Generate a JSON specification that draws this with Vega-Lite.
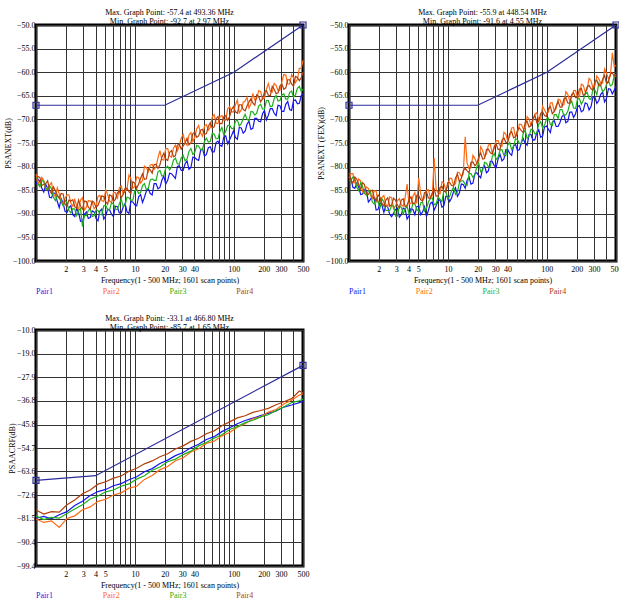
{
"$schema": "https://vega.github.io/schema/vega-lite/v6.json",
"padding": {"left": 2, "top": 7, "right": 0, "bottom": 0},
"datasets": {
"next": [
{"f":1,"Pair1":-83.8,"Pair2":-81.6,"Pair3":-82.3,"Pair4":-83.1},
{"f":1.094,"Pair1":-83.1,"Pair2":-84.2,"Pair3":-84.2,"Pair4":-82.3},
{"f":1.198,"Pair1":-85.4,"Pair2":-83.0,"Pair3":-83.1,"Pair4":-83.8},
{"f":1.311,"Pair1":-84.6,"Pair2":-84.6,"Pair3":-84.9,"Pair4":-83.0},
{"f":1.434,"Pair1":-86.6,"Pair2":-83.4,"Pair3":-84.7,"Pair4":-85.7},
{"f":1.57,"Pair1":-85.7,"Pair2":-86.4,"Pair3":-87.2,"Pair4":-85.1},
{"f":1.718,"Pair1":-88.7,"Pair2":-85.8,"Pair3":-86.6,"Pair4":-86.7},
{"f":1.88,"Pair1":-87.7,"Pair2":-88.0,"Pair3":-88.3,"Pair4":-85.8},
{"f":2.057,"Pair1":-89.7,"Pair2":-86.0,"Pair3":-87.6,"Pair4":-88.4},
{"f":2.251,"Pair1":-88.3,"Pair2":-87.7,"Pair3":-89.8,"Pair4":-87.3},
{"f":2.464,"Pair1":-90.6,"Pair2":-87.0,"Pair3":-89.0,"Pair4":-88.5},
{"f":2.696,"Pair1":-89.7,"Pair2":-89.0,"Pair3":-89.3,"Pair4":-87.1},
{"f":2.95,"Pair1":-91.7,"Pair2":-86.6,"Pair3":-92.7,"Pair4":-89.0},
{"f":3.229,"Pair1":-89.6,"Pair2":-88.6,"Pair3":-90.4,"Pair4":-87.4},
{"f":3.533,"Pair1":-90.8,"Pair2":-87.3,"Pair3":-88.9,"Pair4":-89.0},
{"f":3.866,"Pair1":-89.6,"Pair2":-88.9,"Pair3":-90.4,"Pair4":-87.6},
{"f":4.231,"Pair1":-91.5,"Pair2":-86.3,"Pair3":-89.3,"Pair4":-88.2},
{"f":4.63,"Pair1":-89.0,"Pair2":-87.2,"Pair3":-90.2,"Pair4":-86.2},
{"f":5.067,"Pair1":-90.4,"Pair2":-84.9,"Pair3":-88.2,"Pair4":-87.4},
{"f":5.545,"Pair1":-89.2,"Pair2":-87.3,"Pair3":-89.1,"Pair4":-86.0},
{"f":6.068,"Pair1":-90.6,"Pair2":-85.5,"Pair3":-87.9,"Pair4":-87.4},
{"f":6.64,"Pair1":-88.5,"Pair2":-86.9,"Pair3":-89.1,"Pair4":-85.6},
{"f":7.266,"Pair1":-89.8,"Pair2":-84.1,"Pair3":-86.9,"Pair4":-86.6},
{"f":7.951,"Pair1":-87.8,"Pair2":-85.2,"Pair3":-88.1,"Pair4":-84.6},
{"f":8.701,"Pair1":-89.9,"Pair2":-81.8,"Pair3":-86.6,"Pair4":-85.3},
{"f":9.522,"Pair1":-87.5,"Pair2":-84.6,"Pair3":-87.1,"Pair4":-83.2},
{"f":10.42,"Pair1":-88.3,"Pair2":-82.2,"Pair3":-84.8,"Pair4":-84.6},
{"f":11.4,"Pair1":-85.9,"Pair2":-83.5,"Pair3":-85.5,"Pair4":-82.5},
{"f":12.48,"Pair1":-86.5,"Pair2":-79.9,"Pair3":-83.6,"Pair4":-82.7},
{"f":13.66,"Pair1":-84.7,"Pair2":-81.1,"Pair3":-84.6,"Pair4":-80.4},
{"f":14.94,"Pair1":-86.0,"Pair2":-79.5,"Pair3":-82.6,"Pair4":-81.4},
{"f":16.35,"Pair1":-83.6,"Pair2":-80.1,"Pair3":-82.9,"Pair4":-79.5},
{"f":17.9,"Pair1":-84.4,"Pair2":-76.6,"Pair3":-80.8,"Pair4":-79.6},
{"f":19.58,"Pair1":-82.0,"Pair2":-78.6,"Pair3":-81.9,"Pair4":-77.2},
{"f":21.43,"Pair1":-82.9,"Pair2":-76.2,"Pair3":-79.9,"Pair4":-78.7},
{"f":23.45,"Pair1":-81.5,"Pair2":-78.0,"Pair3":-80.1,"Pair4":-76.6},
{"f":25.66,"Pair1":-82.5,"Pair2":-75.4,"Pair3":-78.2,"Pair4":-77.7},
{"f":28.08,"Pair1":-79.8,"Pair2":-75.6,"Pair3":-79.5,"Pair4":-75.2},
{"f":30.73,"Pair1":-80.8,"Pair2":-73.2,"Pair3":-77.6,"Pair4":-75.6},
{"f":33.63,"Pair1":-78.8,"Pair2":-75.5,"Pair3":-78.4,"Pair4":-74.0},
{"f":36.8,"Pair1":-80.2,"Pair2":-72.8,"Pair3":-76.2,"Pair4":-75.0},
{"f":40.27,"Pair1":-78.1,"Pair2":-73.8,"Pair3":-77.0,"Pair4":-72.7},
{"f":44.07,"Pair1":-78.7,"Pair2":-71.3,"Pair3":-75.7,"Pair4":-73.5},
{"f":48.22,"Pair1":-76.2,"Pair2":-73.6,"Pair3":-76.4,"Pair4":-72.1},
{"f":52.77,"Pair1":-77.4,"Pair2":-71.1,"Pair3":-74.0,"Pair4":-73.0},
{"f":57.75,"Pair1":-75.8,"Pair2":-71.7,"Pair3":-74.7,"Pair4":-70.7},
{"f":63.19,"Pair1":-76.9,"Pair2":-69.0,"Pair3":-73.1,"Pair4":-71.6},
{"f":69.15,"Pair1":-74.6,"Pair2":-70.9,"Pair3":-74.1,"Pair4":-69.4},
{"f":75.67,"Pair1":-75.7,"Pair2":-69.2,"Pair3":-71.7,"Pair4":-70.9},
{"f":82.81,"Pair1":-73.5,"Pair2":-70.2,"Pair3":-72.5,"Pair4":-69.2},
{"f":90.62,"Pair1":-74.3,"Pair2":-67.3,"Pair3":-71.2,"Pair4":-69.4},
{"f":99.17,"Pair1":-72.4,"Pair2":-68.4,"Pair3":-72.0,"Pair4":-67.3},
{"f":108.5,"Pair1":-74.2,"Pair2":-65.9,"Pair3":-70.1,"Pair4":-68.7},
{"f":118.8,"Pair1":-71.8,"Pair2":-68.0,"Pair3":-70.9,"Pair4":-66.9},
{"f":130,"Pair1":-72.5,"Pair2":-66.1,"Pair3":-68.9,"Pair4":-68.2},
{"f":142.2,"Pair1":-70.4,"Pair2":-67.6,"Pair3":-70.3,"Pair4":-66.3},
{"f":155.6,"Pair1":-71.9,"Pair2":-64.5,"Pair3":-68.4,"Pair4":-66.5},
{"f":170.3,"Pair1":-69.8,"Pair2":-65.6,"Pair3":-68.7,"Pair4":-64.8},
{"f":186.4,"Pair1":-70.5,"Pair2":-64.1,"Pair3":-66.8,"Pair4":-66.3},
{"f":204,"Pair1":-68.1,"Pair2":-65.5,"Pair3":-67.8,"Pair4":-64.2},
{"f":223.2,"Pair1":-69.1,"Pair2":-62.4,"Pair3":-66.0,"Pair4":-64.9},
{"f":244.3,"Pair1":-67.7,"Pair2":-64.2,"Pair3":-67.2,"Pair4":-63.0},
{"f":267.3,"Pair1":-69.2,"Pair2":-62.8,"Pair3":-64.9,"Pair4":-64.5},
{"f":292.5,"Pair1":-67.1,"Pair2":-63.8,"Pair3":-66.0,"Pair4":-62.9},
{"f":320.1,"Pair1":-68.3,"Pair2":-60.5,"Pair3":-64.6,"Pair4":-63.6},
{"f":350.3,"Pair1":-66.2,"Pair2":-62.5,"Pair3":-65.7,"Pair4":-61.6},
{"f":383.4,"Pair1":-68.1,"Pair2":-60.5,"Pair3":-64.0,"Pair4":-62.5},
{"f":419.5,"Pair1":-65.9,"Pair2":-62.2,"Pair3":-64.8,"Pair4":-60.9},
{"f":459.1,"Pair1":-66.6,"Pair2":-59.2,"Pair3":-63.0,"Pair4":-61.8},
{"f":500,"Pair1":-64.7,"Pair2":-57.5,"Pair3":-63.6,"Pair4":-60.0},
{"f":1.046,"Pair1":-82.7,"Pair2":-83.1,"Pair3":-83.7,"Pair4":-82.1},
{"f":1.145,"Pair1":-84.6,"Pair2":-82.3,"Pair3":-83.0,"Pair4":-84.0},
{"f":1.253,"Pair1":-83.8,"Pair2":-84.9,"Pair3":-84.6,"Pair4":-83.6},
{"f":1.371,"Pair1":-86.5,"Pair2":-83.9,"Pair3":-84.1,"Pair4":-85.0},
{"f":1.5,"Pair1":-85.6,"Pair2":-85.7,"Pair3":-86.5,"Pair4":-84.3},
{"f":1.642,"Pair1":-87.4,"Pair2":-84.5,"Pair3":-86.1,"Pair4":-86.1},
{"f":1.797,"Pair1":-86.8,"Pair2":-87.2,"Pair3":-87.5,"Pair4":-85.7},
{"f":1.966,"Pair1":-89.5,"Pair2":-86.7,"Pair3":-87.1,"Pair4":-88.0},
{"f":2.152,"Pair1":-88.7,"Pair2":-86.0,"Pair3":-89.3,"Pair4":-87.1},
{"f":2.355,"Pair1":-90.2,"Pair2":-88.4,"Pair3":-88.9,"Pair4":-87.0},
{"f":2.577,"Pair1":-88.8,"Pair2":-88.3,"Pair3":-90.4,"Pair4":-88.8},
{"f":2.82,"Pair1":-91.6,"Pair2":-87.1,"Pair3":-88.9,"Pair4":-88.4},
{"f":3.086,"Pair1":-90.1,"Pair2":-89.2,"Pair3":-90.4,"Pair4":-87.3},
{"f":3.377,"Pair1":-91.0,"Pair2":-87.2,"Pair3":-89.3,"Pair4":-88.6},
{"f":3.696,"Pair1":-89.4,"Pair2":-87.6,"Pair3":-90.6,"Pair4":-87.3},
{"f":4.044,"Pair1":-91.0,"Pair2":-88.5,"Pair3":-89.2,"Pair4":-88.6},
{"f":4.426,"Pair1":-89.4,"Pair2":-86.1,"Pair3":-90.1,"Pair4":-87.2},
{"f":4.843,"Pair1":-91.1,"Pair2":-87.4,"Pair3":-88.3,"Pair4":-86.4},
{"f":5.3,"Pair1":-89.0,"Pair2":-85.9,"Pair3":-89.2,"Pair4":-88.0},
{"f":5.8,"Pair1":-90.1,"Pair2":-87.6,"Pair3":-87.7,"Pair4":-86.2},
{"f":6.347,"Pair1":-88.4,"Pair2":-85.5,"Pair3":-89.0,"Pair4":-86.9},
{"f":6.946,"Pair1":-89.8,"Pair2":-84.5,"Pair3":-87.9,"Pair4":-85.1},
{"f":7.601,"Pair1":-88.6,"Pair2":-85.8,"Pair3":-88.5,"Pair4":-85.9},
{"f":8.318,"Pair1":-89.6,"Pair2":-84.7,"Pair3":-86.5,"Pair4":-84.6},
{"f":9.102,"Pair1":-87.4,"Pair2":-82.5,"Pair3":-87.1,"Pair4":-85.7},
{"f":9.961,"Pair1":-88.1,"Pair2":-84.2,"Pair3":-85.1,"Pair4":-83.5},
{"f":10.9,"Pair1":-86.4,"Pair2":-82.3,"Pair3":-85.7,"Pair4":-83.7},
{"f":11.93,"Pair1":-87.6,"Pair2":-82.9,"Pair3":-84.0,"Pair4":-81.5},
{"f":13.05,"Pair1":-85.2,"Pair2":-80.2,"Pair3":-84.9,"Pair4":-82.6},
{"f":14.28,"Pair1":-85.7,"Pair2":-79.7,"Pair3":-82.8,"Pair4":-80.7},
{"f":15.63,"Pair1":-83.6,"Pair2":-80.6,"Pair3":-82.9,"Pair4":-79.6},
{"f":17.1,"Pair1":-84.7,"Pair2":-78.1,"Pair3":-81.1,"Pair4":-80.4},
{"f":18.72,"Pair1":-82.9,"Pair2":-78.5,"Pair3":-82.0,"Pair4":-78.0},
{"f":20.48,"Pair1":-83.7,"Pair2":-76.2,"Pair3":-80.3,"Pair4":-78.4},
{"f":22.42,"Pair1":-81.4,"Pair2":-77.7,"Pair3":-80.7,"Pair4":-77.0},
{"f":24.53,"Pair1":-82.0,"Pair2":-76.1,"Pair3":-78.6,"Pair4":-77.9},
{"f":26.84,"Pair1":-80.0,"Pair2":-76.7,"Pair3":-79.4,"Pair4":-75.5},
{"f":29.37,"Pair1":-80.8,"Pair2":-74.0,"Pair3":-78.2,"Pair4":-76.3},
{"f":32.15,"Pair1":-79.4,"Pair2":-74.9,"Pair3":-78.8,"Pair4":-75.0},
{"f":35.18,"Pair1":-80.6,"Pair2":-73.3,"Pair3":-76.8,"Pair4":-75.4},
{"f":38.5,"Pair1":-78.0,"Pair2":-74.7,"Pair3":-77.4,"Pair4":-73.0},
{"f":42.13,"Pair1":-78.5,"Pair2":-72.0,"Pair3":-75.5,"Pair4":-73.8},
{"f":46.1,"Pair1":-76.6,"Pair2":-72.9,"Pair3":-76.4,"Pair4":-72.3},
{"f":50.44,"Pair1":-77.8,"Pair2":-71.4,"Pair3":-74.7,"Pair4":-73.2},
{"f":55.2,"Pair1":-76.0,"Pair2":-72.3,"Pair3":-74.8,"Pair4":-71.5},
{"f":60.41,"Pair1":-76.9,"Pair2":-69.5,"Pair3":-73.0,"Pair4":-71.8},
{"f":66.1,"Pair1":-74.9,"Pair2":-70.8,"Pair3":-74.1,"Pair4":-69.9},
{"f":72.34,"Pair1":-75.5,"Pair2":-69.4,"Pair3":-72.5,"Pair4":-70.9},
{"f":79.16,"Pair1":-73.7,"Pair2":-70.1,"Pair3":-73.3,"Pair4":-69.4},
{"f":86.63,"Pair1":-75.2,"Pair2":-67.7,"Pair3":-71.3,"Pair4":-70.2},
{"f":94.8,"Pair1":-73.4,"Pair2":-68.4,"Pair3":-71.9,"Pair4":-67.9},
{"f":103.7,"Pair1":-73.8,"Pair2":-66.9,"Pair3":-70.4,"Pair4":-68.4},
{"f":113.5,"Pair1":-71.7,"Pair2":-68.6,"Pair3":-71.4,"Pair4":-66.9},
{"f":124.3,"Pair1":-72.9,"Pair2":-66.4,"Pair3":-69.8,"Pair4":-67.9},
{"f":136,"Pair1":-71.0,"Pair2":-65.3,"Pair3":-70.0,"Pair4":-67.1},
{"f":148.8,"Pair1":-72.1,"Pair2":-66.7,"Pair3":-68.3,"Pair4":-65.6},
{"f":162.8,"Pair1":-69.8,"Pair2":-65.9,"Pair3":-69.1,"Pair4":-67.0},
{"f":178.2,"Pair1":-70.4,"Pair2":-63.9,"Pair3":-67.2,"Pair4":-65.1},
{"f":195,"Pair1":-68.8,"Pair2":-65.7,"Pair3":-67.8,"Pair4":-65.6},
{"f":213.4,"Pair1":-70.1,"Pair2":-63.6,"Pair3":-66.0,"Pair4":-63.9},
{"f":233.5,"Pair1":-67.7,"Pair2":-64.0,"Pair3":-67.3,"Pair4":-65.0},
{"f":255.5,"Pair1":-68.7,"Pair2":-62.4,"Pair3":-65.6,"Pair4":-63.6},
{"f":279.6,"Pair1":-67.0,"Pair2":-63.9,"Pair3":-66.1,"Pair4":-64.4},
{"f":306,"Pair1":-68.3,"Pair2":-62.0,"Pair3":-64.8,"Pair4":-62.5},
{"f":334.9,"Pair1":-66.8,"Pair2":-60.6,"Pair3":-65.7,"Pair4":-63.3},
{"f":366.5,"Pair1":-67.9,"Pair2":-62.5,"Pair3":-64.3,"Pair4":-61.6},
{"f":401.1,"Pair1":-66.0,"Pair2":-61.2,"Pair3":-65.3,"Pair4":-63.0},
{"f":438.9,"Pair1":-66.7,"Pair2":-61.5,"Pair3":-63.4,"Pair4":-61.1},
{"f":480.3,"Pair1":-64.9,"Pair2":-59.2,"Pair3":-64.1,"Pair4":-61.2}
],
"fext": [
{"f":1,"Pair1":-82.1,"Pair2":-82.4,"Pair3":-82.9,"Pair4":-81.3},
{"f":1.094,"Pair1":-84.4,"Pair2":-81.5,"Pair3":-82.2,"Pair4":-83.5},
{"f":1.198,"Pair1":-83.5,"Pair2":-84.2,"Pair3":-84.4,"Pair4":-82.7},
{"f":1.311,"Pair1":-85.9,"Pair2":-83.0,"Pair3":-83.4,"Pair4":-84.8},
{"f":1.434,"Pair1":-84.9,"Pair2":-85.7,"Pair3":-85.6,"Pair4":-83.8},
{"f":1.57,"Pair1":-87.5,"Pair2":-84.6,"Pair3":-85.1,"Pair4":-85.9},
{"f":1.718,"Pair1":-86.3,"Pair2":-86.7,"Pair3":-87.5,"Pair4":-85.0},
{"f":1.88,"Pair1":-89.2,"Pair2":-85.2,"Pair3":-86.7,"Pair4":-87.4},
{"f":2.057,"Pair1":-87.5,"Pair2":-87.6,"Pair3":-88.9,"Pair4":-86.5},
{"f":2.251,"Pair1":-89.7,"Pair2":-86.1,"Pair3":-87.5,"Pair4":-88.4},
{"f":2.464,"Pair1":-88.6,"Pair2":-88.5,"Pair3":-89.3,"Pair4":-86.6},
{"f":2.696,"Pair1":-90.6,"Pair2":-86.6,"Pair3":-88.3,"Pair4":-88.1},
{"f":2.95,"Pair1":-89.1,"Pair2":-88.4,"Pair3":-90.5,"Pair4":-87.1},
{"f":3.229,"Pair1":-90.7,"Pair2":-86.8,"Pair3":-88.4,"Pair4":-88.7},
{"f":3.533,"Pair1":-88.8,"Pair2":-88.4,"Pair3":-90.0,"Pair4":-86.8},
{"f":3.866,"Pair1":-91.1,"Pair2":-83.7,"Pair3":-88.4,"Pair4":-88.2},
{"f":4.231,"Pair1":-88.9,"Pair2":-87.8,"Pair3":-89.6,"Pair4":-86.4},
{"f":4.63,"Pair1":-90.2,"Pair2":-85.5,"Pair3":-87.9,"Pair4":-87.8},
{"f":5.067,"Pair1":-88.4,"Pair2":-82.4,"Pair3":-89.5,"Pair4":-86.2},
{"f":5.545,"Pair1":-89.6,"Pair2":-87.2,"Pair3":-87.5,"Pair4":-87.3},
{"f":6.068,"Pair1":-90.6,"Pair2":-85.0,"Pair3":-88.8,"Pair4":-85.3},
{"f":6.64,"Pair1":-87.8,"Pair2":-86.5,"Pair3":-86.8,"Pair4":-86.7},
{"f":7.266,"Pair1":-89.2,"Pair2":-78.2,"Pair3":-88.1,"Pair4":-84.8},
{"f":7.951,"Pair1":-87.3,"Pair2":-85.6,"Pair3":-86.4,"Pair4":-86.2},
{"f":8.701,"Pair1":-88.6,"Pair2":-83.2,"Pair3":-87.4,"Pair4":-84.2},
{"f":9.522,"Pair1":-86.3,"Pair2":-85.0,"Pair3":-85.3,"Pair4":-85.4},
{"f":10.42,"Pair1":-87.4,"Pair2":-82.5,"Pair3":-86.3,"Pair4":-83.4},
{"f":11.4,"Pair1":-85.3,"Pair2":-84.0,"Pair3":-84.4,"Pair4":-84.1},
{"f":12.48,"Pair1":-86.3,"Pair2":-81.2,"Pair3":-85.4,"Pair4":-81.6},
{"f":13.66,"Pair1":-83.7,"Pair2":-82.1,"Pair3":-83.0,"Pair4":-82.5},
{"f":14.94,"Pair1":-84.6,"Pair2":-73.7,"Pair3":-83.8,"Pair4":-80.3},
{"f":16.35,"Pair1":-82.2,"Pair2":-80.4,"Pair3":-81.5,"Pair4":-81.3},
{"f":17.9,"Pair1":-83.5,"Pair2":-77.6,"Pair3":-82.3,"Pair4":-79.0},
{"f":19.58,"Pair1":-81.3,"Pair2":-79.3,"Pair3":-80.1,"Pair4":-79.4},
{"f":21.43,"Pair1":-82.4,"Pair2":-75.8,"Pair3":-81.1,"Pair4":-77.1},
{"f":23.45,"Pair1":-79.8,"Pair2":-77.9,"Pair3":-79.1,"Pair4":-78.3},
{"f":25.66,"Pair1":-80.9,"Pair2":-75.4,"Pair3":-80.1,"Pair4":-76.3},
{"f":28.08,"Pair1":-78.9,"Pair2":-77.2,"Pair3":-77.9,"Pair4":-77.3},
{"f":30.73,"Pair1":-80.2,"Pair2":-74.5,"Pair3":-78.5,"Pair4":-75.2},
{"f":33.63,"Pair1":-77.4,"Pair2":-75.6,"Pair3":-76.5,"Pair4":-76.3},
{"f":36.8,"Pair1":-78.4,"Pair2":-72.7,"Pair3":-77.6,"Pair4":-73.9},
{"f":40.27,"Pair1":-76.4,"Pair2":-74.6,"Pair3":-75.4,"Pair4":-74.8},
{"f":44.07,"Pair1":-77.6,"Pair2":-71.8,"Pair3":-76.4,"Pair4":-72.6},
{"f":48.22,"Pair1":-75.3,"Pair2":-73.7,"Pair3":-74.1,"Pair4":-73.7},
{"f":52.77,"Pair1":-76.4,"Pair2":-71.0,"Pair3":-75.1,"Pair4":-71.8},
{"f":57.75,"Pair1":-74.1,"Pair2":-72.0,"Pair3":-72.9,"Pair4":-72.8},
{"f":63.19,"Pair1":-75.5,"Pair2":-69.4,"Pair3":-74.0,"Pair4":-70.4},
{"f":69.15,"Pair1":-73.2,"Pair2":-71.3,"Pair3":-72.1,"Pair4":-71.3},
{"f":75.67,"Pair1":-74.3,"Pair2":-68.9,"Pair3":-73.1,"Pair4":-69.1},
{"f":82.81,"Pair1":-72.2,"Pair2":-70.1,"Pair3":-71.0,"Pair4":-70.4},
{"f":90.62,"Pair1":-73.5,"Pair2":-67.2,"Pair3":-71.8,"Pair4":-68.4},
{"f":99.17,"Pair1":-71.4,"Pair2":-68.8,"Pair3":-69.9,"Pair4":-69.4},
{"f":108.5,"Pair1":-72.8,"Pair2":-66.5,"Pair3":-71.1,"Pair4":-67.3},
{"f":118.8,"Pair1":-70.3,"Pair2":-68.3,"Pair3":-69.0,"Pair4":-68.3},
{"f":130,"Pair1":-71.5,"Pair2":-65.7,"Pair3":-69.8,"Pair4":-66.2},
{"f":142.2,"Pair1":-69.4,"Pair2":-67.0,"Pair3":-67.9,"Pair4":-67.4},
{"f":155.6,"Pair1":-70.7,"Pair2":-64.1,"Pair3":-69.0,"Pair4":-65.4},
{"f":170.3,"Pair1":-68.5,"Pair2":-66.1,"Pair3":-66.7,"Pair4":-66.6},
{"f":186.4,"Pair1":-69.6,"Pair2":-63.9,"Pair3":-67.6,"Pair4":-64.4},
{"f":204,"Pair1":-67.3,"Pair2":-65.3,"Pair3":-65.7,"Pair4":-65.4},
{"f":223.2,"Pair1":-68.4,"Pair2":-62.5,"Pair3":-66.8,"Pair4":-63.4},
{"f":244.3,"Pair1":-66.5,"Pair2":-64.2,"Pair3":-64.6,"Pair4":-64.6},
{"f":267.3,"Pair1":-68.0,"Pair2":-61.3,"Pair3":-65.6,"Pair4":-62.8},
{"f":292.5,"Pair1":-65.3,"Pair2":-63.4,"Pair3":-63.5,"Pair4":-63.8},
{"f":320.1,"Pair1":-66.6,"Pair2":-60.8,"Pair3":-64.8,"Pair4":-61.7},
{"f":350.3,"Pair1":-64.7,"Pair2":-62.3,"Pair3":-62.9,"Pair4":-62.8},
{"f":383.4,"Pair1":-66.3,"Pair2":-59.3,"Pair3":-63.7,"Pair4":-60.7},
{"f":419.5,"Pair1":-63.5,"Pair2":-61.4,"Pair3":-61.8,"Pair4":-62.0},
{"f":459.1,"Pair1":-64.6,"Pair2":-55.9,"Pair3":-62.6,"Pair4":-60.1},
{"f":500,"Pair1":-62.9,"Pair2":-58.6,"Pair3":-61.0,"Pair4":-60.4},
{"f":1.046,"Pair1":-82.5,"Pair2":-81.5,"Pair3":-83.0,"Pair4":-82.9},
{"f":1.145,"Pair1":-84.6,"Pair2":-83.4,"Pair3":-82.4,"Pair4":-82.2},
{"f":1.253,"Pair1":-84.3,"Pair2":-82.6,"Pair3":-85.1,"Pair4":-83.8},
{"f":1.371,"Pair1":-85.8,"Pair2":-85.3,"Pair3":-84.2,"Pair4":-83.4},
{"f":1.5,"Pair1":-85.1,"Pair2":-84.3,"Pair3":-86.1,"Pair4":-85.7},
{"f":1.642,"Pair1":-87.0,"Pair2":-85.9,"Pair3":-85.0,"Pair4":-85.2},
{"f":1.797,"Pair1":-86.8,"Pair2":-85.1,"Pair3":-87.9,"Pair4":-86.5},
{"f":1.966,"Pair1":-89.1,"Pair2":-87.6,"Pair3":-87.4,"Pair4":-86.0},
{"f":2.152,"Pair1":-88.2,"Pair2":-86.5,"Pair3":-86.8,"Pair4":-87.8},
{"f":2.355,"Pair1":-88.2,"Pair2":-88.0,"Pair3":-89.3,"Pair4":-87.1},
{"f":2.577,"Pair1":-90.1,"Pair2":-86.4,"Pair3":-89.3,"Pair4":-88.4},
{"f":2.82,"Pair1":-89.9,"Pair2":-88.9,"Pair3":-88.3,"Pair4":-86.7},
{"f":3.086,"Pair1":-88.8,"Pair2":-87.2,"Pair3":-90.5,"Pair4":-88.2},
{"f":3.377,"Pair1":-90.2,"Pair2":-88.1,"Pair3":-88.6,"Pair4":-87.1},
{"f":3.696,"Pair1":-89.0,"Pair2":-86.5,"Pair3":-89.0,"Pair4":-88.5},
{"f":4.044,"Pair1":-90.4,"Pair2":-88.0,"Pair3":-90.0,"Pair4":-87.0},
{"f":4.426,"Pair1":-89.1,"Pair2":-86.3,"Pair3":-87.7,"Pair4":-87.9},
{"f":4.843,"Pair1":-88.5,"Pair2":-87.8,"Pair3":-89.1,"Pair4":-86.1},
{"f":5.3,"Pair1":-90.2,"Pair2":-85.7,"Pair3":-87.7,"Pair4":-87.0},
{"f":5.8,"Pair1":-88.5,"Pair2":-86.6,"Pair3":-89.4,"Pair4":-85.5},
{"f":6.347,"Pair1":-89.3,"Pair2":-84.9,"Pair3":-87.5,"Pair4":-86.7},
{"f":6.946,"Pair1":-87.5,"Pair2":-86.2,"Pair3":-86.6,"Pair4":-85.6},
{"f":7.601,"Pair1":-88.3,"Pair2":-84.8,"Pair3":-87.9,"Pair4":-86.3},
{"f":8.318,"Pair1":-87.0,"Pair2":-85.8,"Pair3":-87.0,"Pair4":-84.4},
{"f":9.102,"Pair1":-88.3,"Pair2":-83.5,"Pair3":-85.0,"Pair4":-85.2},
{"f":9.961,"Pair1":-86.3,"Pair2":-84.1,"Pair3":-86.9,"Pair4":-83.4},
{"f":10.9,"Pair1":-86.6,"Pair2":-82.5,"Pair3":-85.1,"Pair4":-84.0},
{"f":11.93,"Pair1":-84.5,"Pair2":-83.6,"Pair3":-85.9,"Pair4":-82.4},
{"f":13.05,"Pair1":-85.6,"Pair2":-81.3,"Pair3":-83.4,"Pair4":-83.2},
{"f":14.28,"Pair1":-83.8,"Pair2":-81.6,"Pair3":-83.0,"Pair4":-81.0},
{"f":15.63,"Pair1":-82.9,"Pair2":-79.3,"Pair3":-84.0,"Pair4":-80.9},
{"f":17.1,"Pair1":-83.7,"Pair2":-80.2,"Pair3":-81.5,"Pair4":-79.1},
{"f":18.72,"Pair1":-81.5,"Pair2":-78.3,"Pair3":-81.7,"Pair4":-79.8},
{"f":20.48,"Pair1":-81.9,"Pair2":-78.9,"Pair3":-79.3,"Pair4":-78.0},
{"f":22.42,"Pair1":-80.4,"Pair2":-76.6,"Pair3":-80.8,"Pair4":-78.4},
{"f":24.53,"Pair1":-81.3,"Pair2":-77.3,"Pair3":-79.3,"Pair4":-76.4},
{"f":26.84,"Pair1":-78.9,"Pair2":-75.3,"Pair3":-79.9,"Pair4":-77.1},
{"f":29.37,"Pair1":-79.8,"Pair2":-76.0,"Pair3":-77.2,"Pair4":-75.8},
{"f":32.15,"Pair1":-78.4,"Pair2":-74.5,"Pair3":-78.0,"Pair4":-76.4},
{"f":35.18,"Pair1":-78.8,"Pair2":-75.7,"Pair3":-76.4,"Pair4":-74.4},
{"f":38.5,"Pair1":-76.4,"Pair2":-73.1,"Pair3":-77.7,"Pair4":-74.9},
{"f":42.13,"Pair1":-77.2,"Pair2":-73.6,"Pair3":-74.9,"Pair4":-73.0},
{"f":46.1,"Pair1":-75.6,"Pair2":-71.7,"Pair3":-75.7,"Pair4":-73.9},
{"f":50.44,"Pair1":-76.6,"Pair2":-72.9,"Pair3":-74.3,"Pair4":-72.3},
{"f":55.2,"Pair1":-74.9,"Pair2":-71.1,"Pair3":-75.2,"Pair4":-72.4},
{"f":60.41,"Pair1":-75.1,"Pair2":-71.9,"Pair3":-72.3,"Pair4":-70.6},
{"f":66.1,"Pair1":-73.2,"Pair2":-69.9,"Pair3":-73.6,"Pair4":-71.6},
{"f":72.34,"Pair1":-74.4,"Pair2":-70.3,"Pair3":-72.2,"Pair4":-69.9},
{"f":79.16,"Pair1":-72.8,"Pair2":-68.6,"Pair3":-72.9,"Pair4":-70.7},
{"f":86.63,"Pair1":-73.8,"Pair2":-70.0,"Pair3":-70.5,"Pair4":-68.7},
{"f":94.8,"Pair1":-71.6,"Pair2":-68.0,"Pair3":-71.2,"Pair4":-69.2},
{"f":103.7,"Pair1":-72.1,"Pair2":-68.4,"Pair3":-69.7,"Pair4":-67.7},
{"f":113.5,"Pair1":-70.6,"Pair2":-66.5,"Pair3":-71.3,"Pair4":-68.8},
{"f":124.3,"Pair1":-71.5,"Pair2":-67.7,"Pair3":-69.0,"Pair4":-67.1},
{"f":136,"Pair1":-70.6,"Pair2":-65.9,"Pair3":-67.9,"Pair4":-67.4},
{"f":148.8,"Pair1":-69.0,"Pair2":-66.9,"Pair3":-69.2,"Pair4":-65.6},
{"f":162.8,"Pair1":-70.4,"Pair2":-64.7,"Pair3":-68.3,"Pair4":-66.5},
{"f":178.2,"Pair1":-68.4,"Pair2":-65.3,"Pair3":-66.1,"Pair4":-64.7},
{"f":195,"Pair1":-68.8,"Pair2":-63.9,"Pair3":-67.7,"Pair4":-65.4},
{"f":213.4,"Pair1":-67.1,"Pair2":-65.2,"Pair3":-65.6,"Pair4":-63.6},
{"f":233.5,"Pair1":-68.1,"Pair2":-62.8,"Pair3":-66.0,"Pair4":-64.9},
{"f":255.5,"Pair1":-66.7,"Pair2":-63.6,"Pair3":-64.3,"Pair4":-63.1},
{"f":279.6,"Pair1":-67.3,"Pair2":-61.8,"Pair3":-65.8,"Pair4":-63.5},
{"f":306,"Pair1":-65.3,"Pair2":-62.9,"Pair3":-63.8,"Pair4":-62.0},
{"f":334.9,"Pair1":-66.0,"Pair2":-61.4,"Pair3":-62.3,"Pair4":-62.9},
{"f":366.5,"Pair1":-64.2,"Pair2":-62.3,"Pair3":-64.1,"Pair4":-61.5},
{"f":401.1,"Pair1":-65.5,"Pair2":-60.2,"Pair3":-62.6,"Pair4":-62.4},
{"f":438.9,"Pair1":-63.6,"Pair2":-60.7,"Pair3":-62.9,"Pair4":-60.4},
{"f":480.3,"Pair1":-63.8,"Pair2":-58.8,"Pair3":-60.8,"Pair4":-60.9}
],
"acrf": [
{"f":1,"Pair1":-81.3,"Pair2":-81.6,"Pair3":-80.4,"Pair4":-78.2},
{"f":1.198,"Pair1":-80.6,"Pair2":-82.9,"Pair3":-81.8,"Pair4":-79.7},
{"f":1.434,"Pair1":-81.5,"Pair2":-82.3,"Pair3":-81.0,"Pair4":-78.8},
{"f":1.718,"Pair1":-80.0,"Pair2":-84.8,"Pair3":-81.3,"Pair4":-79.0},
{"f":2.057,"Pair1":-78.8,"Pair2":-81.4,"Pair3":-79.5,"Pair4":-76.2},
{"f":2.464,"Pair1":-76.5,"Pair2":-80.4,"Pair3":-77.8,"Pair4":-74.4},
{"f":2.95,"Pair1":-74.9,"Pair2":-78.1,"Pair3":-76.2,"Pair4":-72.0},
{"f":3.533,"Pair1":-72.7,"Pair2":-77.0,"Pair3":-74.0,"Pair4":-70.6},
{"f":4.231,"Pair1":-71.2,"Pair2":-74.9,"Pair3":-72.9,"Pair4":-68.4},
{"f":5.067,"Pair1":-70.4,"Pair2":-74.1,"Pair3":-71.3,"Pair4":-67.5},
{"f":6.068,"Pair1":-69.0,"Pair2":-72.5,"Pair3":-70.6,"Pair4":-66.1},
{"f":7.266,"Pair1":-68.2,"Pair2":-71.7,"Pair3":-69.2,"Pair4":-65.3},
{"f":8.701,"Pair1":-66.7,"Pair2":-69.9,"Pair3":-68.3,"Pair4":-63.5},
{"f":10.42,"Pair1":-65.6,"Pair2":-69.2,"Pair3":-66.5,"Pair4":-62.4},
{"f":12.48,"Pair1":-63.7,"Pair2":-66.6,"Pair3":-65.2,"Pair4":-60.7},
{"f":14.94,"Pair1":-62.5,"Pair2":-65.1,"Pair3":-63.1,"Pair4":-59.6},
{"f":17.9,"Pair1":-60.6,"Pair2":-62.9,"Pair3":-61.9,"Pair4":-58.0},
{"f":21.43,"Pair1":-59.3,"Pair2":-61.7,"Pair3":-59.9,"Pair4":-56.9},
{"f":25.66,"Pair1":-57.6,"Pair2":-59.5,"Pair3":-58.9,"Pair4":-55.1},
{"f":30.73,"Pair1":-56.4,"Pair2":-58.4,"Pair3":-57.2,"Pair4":-53.9},
{"f":36.8,"Pair1":-54.6,"Pair2":-56.2,"Pair3":-55.9,"Pair4":-52.2},
{"f":44.07,"Pair1":-53.3,"Pair2":-55.0,"Pair3":-53.9,"Pair4":-51.0},
{"f":52.77,"Pair1":-51.5,"Pair2":-53.0,"Pair3":-52.6,"Pair4":-49.3},
{"f":63.19,"Pair1":-50.4,"Pair2":-52.1,"Pair3":-51.0,"Pair4":-48.2},
{"f":75.67,"Pair1":-48.5,"Pair2":-50.1,"Pair3":-49.7,"Pair4":-46.3},
{"f":90.62,"Pair1":-47.0,"Pair2":-48.8,"Pair3":-47.7,"Pair4":-44.8},
{"f":108.5,"Pair1":-45.5,"Pair2":-46.8,"Pair3":-46.6,"Pair4":-43.3},
{"f":130,"Pair1":-44.3,"Pair2":-45.5,"Pair3":-45.1,"Pair4":-42.5},
{"f":155.6,"Pair1":-43.4,"Pair2":-43.6,"Pair3":-44.2,"Pair4":-41.2},
{"f":186.4,"Pair1":-42.4,"Pair2":-42.9,"Pair3":-42.9,"Pair4":-40.5},
{"f":223.2,"Pair1":-41.6,"Pair2":-41.1,"Pair3":-42.1,"Pair4":-39.7},
{"f":267.3,"Pair1":-40.7,"Pair2":-40.1,"Pair3":-40.5,"Pair4":-38.3},
{"f":320.1,"Pair1":-39.2,"Pair2":-38.0,"Pair3":-39.2,"Pair4":-37.2},
{"f":383.4,"Pair1":-38.4,"Pair2":-36.6,"Pair3":-37.5,"Pair4":-36.0},
{"f":459.1,"Pair1":-37.5,"Pair2":-34.6,"Pair3":-36.8,"Pair4":-33.1},
{"f":500,"Pair1":-37.0,"Pair2":-34.2,"Pair3":-36.2,"Pair4":-33.8}
],
"limNext": [{"f":1,"v":-67},{"f":20,"v":-67},{"f":100,"v":-60},{"f":500,"v":-50}],
"limAcrf": [{"f":1,"v":-67},{"f":4,"v":-65.2},{"f":500,"v":-23.4}],
"pairs": [{"pair":"Pair1"},{"pair":"Pair2"},{"pair":"Pair3"},{"pair":"Pair4"}]
},
"vconcat": [
{"hconcat": [
{"width": 267, "height": 236,
 "title": {"text": ["Max. Graph Point: -57.4 at 493.36 MHz", "Min. Graph Point: -92.7 at 2.97 MHz"]},
 "layer": [
  {"layer": [
   {"data": {"name": "next"}, "transform": [{"fold": ["Pair1","Pair2","Pair3","Pair4"], "as": ["pair","v"]}],
    "mark": {"type": "line", "strokeWidth": 1.2},
    "encoding": {
     "x": {"field": "f", "type": "quantitative", "scale": {"type": "log", "domain": [1,500], "nice": false},
       "axis": {"values": [1,2,3,4,5,6,7,8,9,10,20,30,40,50,60,70,80,90,100,200,300,400,500], "tickCount": 30, "labelExpr": "indexof([2,3,4,5,10,20,30,40,100,200,300,500], datum.value) >= 0 ? format(datum.value, 'd') : ''", "title": "Frequency(1 - 500 MHz; 1601 scan points)"}},
     "y": {"field": "v", "type": "quantitative", "scale": {"domain": [-100,-50], "nice": false, "zero": false},
       "axis": {"values": [-100,-95,-90,-85,-80,-75,-70,-65,-60,-55,-50], "tickCount": 20, "format": ".1f", "title": "PSANEXT(dB)"}},
     "color": {"field": "pair", "type": "nominal", "scale": {"domain": ["Pair1","Pair2","Pair3","Pair4"], "range": ["#1616ee","#ff6a12","#1cb01c","#b0400c"]}, "legend": null}
    }},
   {"data": {"name": "limNext"}, "mark": {"type": "line", "color": "#2c2c9a", "strokeWidth": 1.2},
    "encoding": {"x": {"field": "f", "type": "quantitative"}, "y": {"field": "v", "type": "quantitative"}}},
   {"data": {"name": "limNext"}, "transform": [{"filter": "datum.f == 1 || datum.f == 500"}],
    "mark": {"type": "point", "shape": "square", "size": 36, "filled": false, "color": "#2c2c9a", "strokeWidth": 1.2, "opacity": 1},
    "encoding": {"x": {"field": "f", "type": "quantitative"}, "y": {"field": "v", "type": "quantitative"}}}
  ]},
  {"data": {"name": "pairs"}, "mark": {"type": "text", "align": "left", "baseline": "middle", "dy": 31, "font": "Liberation Serif", "fontSize": 8},
   "encoding": {"x": {"field": "pair", "type": "nominal", "scale": {"type": "band", "paddingInner": 0, "paddingOuter": 0}, "axis": null, "bandPosition": 0},
     "y": {"datum": -100, "type": "quantitative", "axis": {"values": [-100,-95,-90,-85,-80,-75,-70,-65,-60,-55,-50], "tickCount": 20, "format": ".1f", "title": "PSANEXT(dB)"}}, "text": {"field": "pair"},
     "color": {"field": "pair", "type": "nominal", "legend": null}}}
 ],
 "resolve": {"scale": {"x": "independent"}}
},
{"width": 267, "height": 236,
 "title": {"text": ["Max. Graph Point: -55.9 at 448.54 MHz", "Min. Graph Point: -91.6 at 4.55 MHz"]},
 "layer": [
  {"layer": [
   {"data": {"name": "fext"}, "transform": [{"fold": ["Pair1","Pair2","Pair3","Pair4"], "as": ["pair","v"]}],
    "mark": {"type": "line", "strokeWidth": 1.2},
    "encoding": {
     "x": {"field": "f", "type": "quantitative", "scale": {"type": "log", "domain": [1,500], "nice": false},
       "axis": {"values": [1,2,3,4,5,6,7,8,9,10,20,30,40,50,60,70,80,90,100,200,300,400,500], "tickCount": 30, "labelExpr": "indexof([2,3,4,5,10,20,30,40,100,200,300,500], datum.value) >= 0 ? format(datum.value, 'd') : ''", "title": "Frequency(1 - 500 MHz; 1601 scan points)"}},
     "y": {"field": "v", "type": "quantitative", "scale": {"domain": [-100,-50], "nice": false, "zero": false},
       "axis": {"values": [-100,-95,-90,-85,-80,-75,-70,-65,-60,-55,-50], "tickCount": 20, "format": ".1f", "title": "PSANEXT (FEX)(dB)"}},
     "color": {"field": "pair", "type": "nominal", "scale": {"domain": ["Pair1","Pair2","Pair3","Pair4"], "range": ["#1616ee","#ff6a12","#1cb01c","#b0400c"]}, "legend": null}
    }},
   {"data": {"name": "limNext"}, "mark": {"type": "line", "color": "#2c2c9a", "strokeWidth": 1.2},
    "encoding": {"x": {"field": "f", "type": "quantitative"}, "y": {"field": "v", "type": "quantitative"}}},
   {"data": {"name": "limNext"}, "transform": [{"filter": "datum.f == 1 || datum.f == 500"}],
    "mark": {"type": "point", "shape": "square", "size": 36, "filled": false, "color": "#2c2c9a", "strokeWidth": 1.2, "opacity": 1},
    "encoding": {"x": {"field": "f", "type": "quantitative"}, "y": {"field": "v", "type": "quantitative"}}}
  ]},
  {"data": {"name": "pairs"}, "mark": {"type": "text", "align": "left", "baseline": "middle", "dy": 31, "font": "Liberation Serif", "fontSize": 8},
   "encoding": {"x": {"field": "pair", "type": "nominal", "scale": {"type": "band", "paddingInner": 0, "paddingOuter": 0}, "axis": null, "bandPosition": 0},
     "y": {"datum": -100, "type": "quantitative", "axis": {"values": [-100,-95,-90,-85,-80,-75,-70,-65,-60,-55,-50], "tickCount": 20, "format": ".1f", "title": "PSANEXT (FEX)(dB)"}}, "text": {"field": "pair"},
     "color": {"field": "pair", "type": "nominal", "legend": null}}}
 ],
 "resolve": {"scale": {"x": "independent"}}
}
], "spacing": 4},
{"width": 267, "height": 236,
 "title": {"text": ["Max. Graph Point: -33.1 at 466.80 MHz", "Min. Graph Point: -85.7 at 1.65 MHz"]},
 "layer": [
  {"layer": [
   {"data": {"name": "acrf"}, "transform": [{"fold": ["Pair1","Pair2","Pair3","Pair4"], "as": ["pair","v"]}],
    "mark": {"type": "line", "strokeWidth": 1.2},
    "encoding": {
     "x": {"field": "f", "type": "quantitative", "scale": {"type": "log", "domain": [1,500], "nice": false},
       "axis": {"values": [1,2,3,4,5,6,7,8,9,10,20,30,40,50,60,70,80,90,100,200,300,400,500], "tickCount": 30, "labelExpr": "indexof([2,3,4,5,10,20,30,40,100,200,300,500], datum.value) >= 0 ? format(datum.value, 'd') : ''", "title": "Frequency(1 - 500 MHz; 1601 scan points)"}},
     "y": {"field": "v", "type": "quantitative", "scale": {"domain": [-99.4,-10], "nice": false, "zero": false},
       "axis": {"values": [-99.4,-90.4,-81.5,-72.6,-63.6,-54.7,-45.8,-36.8,-27.9,-19,-10], "tickCount": 20, "format": ".1f", "title": "PSAACRF(dB)"}},
     "color": {"field": "pair", "type": "nominal", "scale": {"domain": ["Pair1","Pair2","Pair3","Pair4"], "range": ["#1616ee","#ff6a12","#1cb01c","#b0400c"]}, "legend": null}
    }},
   {"data": {"name": "limAcrf"}, "mark": {"type": "line", "color": "#2c2c9a", "strokeWidth": 1.2},
    "encoding": {"x": {"field": "f", "type": "quantitative"}, "y": {"field": "v", "type": "quantitative"}}},
   {"data": {"name": "limAcrf"}, "transform": [{"filter": "datum.f == 1 || datum.f == 500"}],
    "mark": {"type": "point", "shape": "square", "size": 36, "filled": false, "color": "#2c2c9a", "strokeWidth": 1.2, "opacity": 1},
    "encoding": {"x": {"field": "f", "type": "quantitative"}, "y": {"field": "v", "type": "quantitative"}}}
  ]},
  {"data": {"name": "pairs"}, "mark": {"type": "text", "align": "left", "baseline": "middle", "dy": 30, "font": "Liberation Serif", "fontSize": 8},
   "encoding": {"x": {"field": "pair", "type": "nominal", "scale": {"type": "band", "paddingInner": 0, "paddingOuter": 0}, "axis": null, "bandPosition": 0},
     "y": {"datum": -99.4, "type": "quantitative", "axis": {"values": [-99.4,-90.4,-81.5,-72.6,-63.6,-54.7,-45.8,-36.8,-27.9,-19,-10], "tickCount": 20, "format": ".1f", "title": "PSAACRF(dB)"}}, "text": {"field": "pair"},
     "color": {"field": "pair", "type": "nominal", "legend": null}}}
 ],
 "resolve": {"scale": {"x": "independent"}}
}
],
"spacing": 15,
"config": {
 "view": {"stroke": "#000", "strokeWidth": 3},
 "axis": {"grid": true, "gridColor": "#333", "gridWidth": 1, "gridOpacity": 1, "domain": false, "ticks": false, "tickSize": 0,
   "labelFont": "Liberation Serif", "labelFontSize": 8, "labelColor": "#000", "titleFont": "Liberation Serif", "titleFontSize": 8,
   "titleFontWeight": "normal", "titleColor": "#000", "labelFlush": false, "labelOverlap": false},
 "axisX": {"labelPadding": 4, "titlePadding": 3},
 "axisY": {"labelPadding": 1, "titlePadding": 0},
 "title": {"font": "Liberation Serif", "fontSize": 8, "fontWeight": "normal", "color": "#000", "offset": -6, "lineHeight": 9, "anchor": "middle"}
}
}
